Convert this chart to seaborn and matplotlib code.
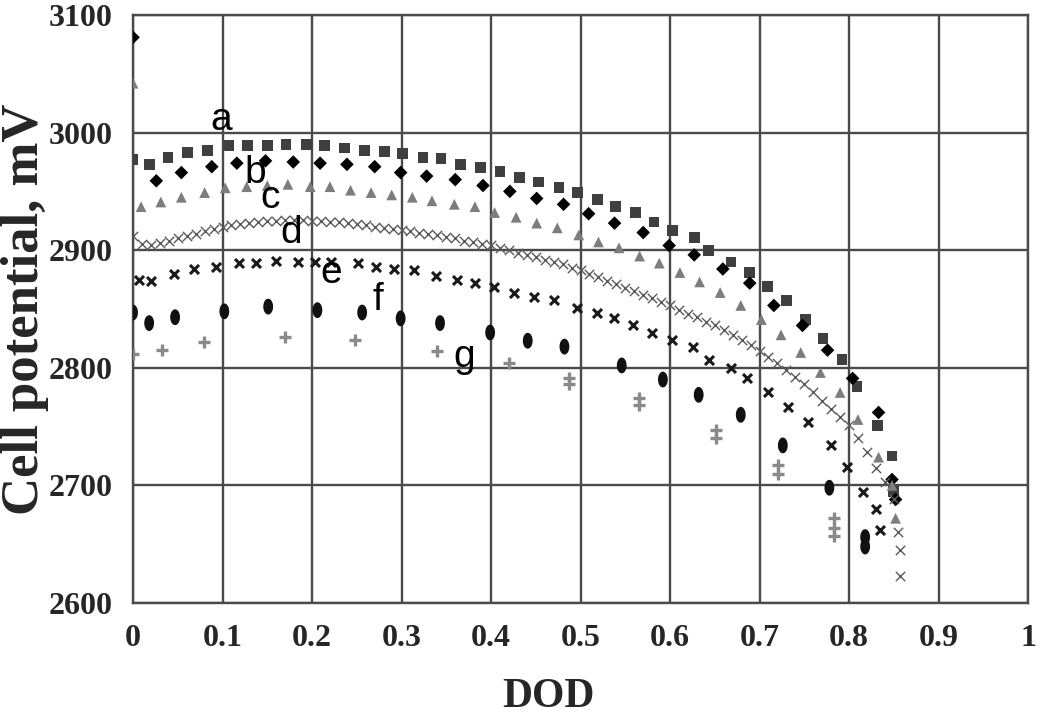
import numpy as np
import pandas as pd
import matplotlib
matplotlib.use("Agg")
import matplotlib.pyplot as plt
from matplotlib.path import Path
import seaborn as sns

# ---------------- data ----------------
a_x = [0, 0.018, 0.039, 0.061, 0.083, 0.107, 0.128, 0.150, 0.171, 0.194, 0.214, 0.236, 0.259, 0.281,
       0.301, 0.324, 0.344, 0.366, 0.388, 0.410, 0.432, 0.453, 0.476, 0.497, 0.519, 0.539, 0.561,
       0.582, 0.603, 0.627, 0.643, 0.668, 0.689, 0.709, 0.730, 0.751, 0.771, 0.792, 0.809, 0.832,
       0.848, 0.850]
a_y = [2977, 2973, 2979, 2983, 2985, 2989, 2989, 2989, 2990, 2990, 2989, 2987, 2985, 2984,
       2982, 2979, 2978, 2973, 2970, 2967, 2962, 2958, 2953, 2949, 2943, 2937, 2932,
       2924, 2917, 2911, 2900, 2890, 2881, 2869, 2857, 2841, 2825, 2807, 2784, 2751,
       2725, 2695]

b_x = [0, 0.026, 0.054, 0.088, 0.116, 0.148, 0.179, 0.209, 0.239, 0.270, 0.299, 0.328, 0.360,
       0.391, 0.421, 0.451, 0.481, 0.509, 0.538, 0.570, 0.599, 0.627, 0.659, 0.689, 0.716, 0.748,
       0.776, 0.804, 0.833, 0.848, 0.852]
b_y = [3081, 2959, 2966, 2971, 2974, 2976, 2975, 2974, 2973, 2971, 2966, 2963, 2960,
       2955, 2950, 2944, 2939, 2931, 2923, 2915, 2904, 2896, 2884, 2872, 2853, 2836,
       2815, 2791, 2762, 2705, 2688]

c_x = [0, 0.009, 0.031, 0.054, 0.080, 0.103, 0.127, 0.150, 0.173, 0.198, 0.220, 0.243, 0.266,
       0.289, 0.312, 0.334, 0.359, 0.382, 0.404, 0.428, 0.451, 0.474, 0.498, 0.520, 0.543, 0.566,
       0.588, 0.611, 0.633, 0.656, 0.679, 0.702, 0.724, 0.746, 0.768, 0.790, 0.810, 0.833, 0.848,
       0.852]
c_y = [3042, 2937, 2941, 2945, 2949, 2953, 2954, 2955, 2956, 2954, 2954, 2951, 2949,
       2947, 2945, 2942, 2939, 2937, 2932, 2928, 2923, 2919, 2913, 2907, 2902, 2895,
       2889, 2881, 2873, 2864, 2853, 2841, 2828, 2813, 2796, 2779, 2756, 2724, 2700,
       2672]

d_x = [0.00, 0.01, 0.02, 0.03, 0.04, 0.05, 0.06, 0.07, 0.08, 0.09, 0.10, 0.11, 0.12, 0.13, 0.14,
       0.15, 0.16, 0.17, 0.18, 0.19, 0.20, 0.21, 0.22, 0.23, 0.24, 0.25, 0.26, 0.27, 0.28, 0.29,
       0.30, 0.31, 0.32, 0.33, 0.34, 0.35, 0.36, 0.37, 0.38, 0.39, 0.40, 0.41, 0.42, 0.43, 0.44,
       0.45, 0.46, 0.47, 0.48, 0.49, 0.50, 0.51, 0.52, 0.53, 0.54, 0.55, 0.56, 0.57, 0.58, 0.59,
       0.60, 0.61, 0.62, 0.63, 0.64, 0.65, 0.66, 0.67, 0.68, 0.69, 0.70, 0.71, 0.72, 0.73, 0.74,
       0.75, 0.76, 0.77, 0.78, 0.79, 0.80, 0.81, 0.82, 0.83, 0.84, 0.85, 0.855, 0.857, 0.857]
d_y = [2912, 2905, 2904, 2906, 2908, 2910, 2912, 2914, 2916, 2918, 2920, 2921, 2922, 2923, 2924,
       2925, 2925, 2926, 2926, 2926, 2925, 2925, 2924, 2924, 2923, 2922, 2921, 2920, 2919, 2918,
       2917, 2916, 2915, 2914, 2913, 2911, 2910, 2908, 2907, 2905, 2904, 2902, 2900, 2898, 2896,
       2894, 2892, 2890, 2888, 2885, 2883, 2880, 2877, 2874, 2871, 2868, 2865, 2862, 2859, 2856,
       2853, 2849, 2846, 2843, 2839, 2836, 2832, 2828, 2824, 2819, 2814, 2809, 2804, 2798, 2792,
       2786, 2779, 2772, 2765, 2758, 2751, 2740, 2728, 2715, 2703, 2688, 2660, 2645, 2623]

e_x = [0.007, 0.020, 0.046, 0.068, 0.093, 0.118, 0.137, 0.160, 0.184, 0.203, 0.221, 0.251, 0.271,
       0.292, 0.314, 0.338, 0.362, 0.382, 0.403, 0.426, 0.448, 0.470, 0.496, 0.518, 0.537, 0.559,
       0.580, 0.602, 0.626, 0.644, 0.668, 0.686, 0.710, 0.732, 0.754, 0.780, 0.798, 0.816, 0.830,
       0.835]
e_y = [2875, 2874, 2880, 2884, 2886, 2889, 2889, 2891, 2890, 2890, 2890, 2889, 2886,
       2884, 2883, 2878, 2875, 2872, 2869, 2864, 2860, 2858, 2851, 2847, 2842, 2836,
       2830, 2824, 2818, 2807, 2800, 2791, 2779, 2767, 2754, 2734, 2716, 2694, 2680,
       2662]

f_x = [0, 0.018, 0.047, 0.102, 0.151, 0.206, 0.256, 0.299, 0.343, 0.399, 0.441, 0.482, 0.546,
       0.592, 0.632, 0.679, 0.726, 0.778, 0.818, 0.818]
f_y = [2847, 2838, 2843, 2848, 2852, 2849, 2847, 2842, 2838, 2830, 2823, 2818, 2802,
       2790, 2777, 2760, 2734, 2698, 2656, 2648]

g_x = [0, 0.032, 0.079, 0.170, 0.248, 0.340, 0.420, 0.487, 0.487, 0.565, 0.565, 0.651, 0.651,
       0.721, 0.721, 0.783, 0.783, 0.783]
g_y = [2812, 2815, 2822, 2826, 2824, 2814, 2804, 2791, 2786, 2774, 2768, 2747, 2740,
       2717, 2710, 2672, 2664, 2657]

curve_labels = ["a", "b", "c", "d", "e", "f", "g"]
label_x = [0.098, 0.137, 0.153, 0.177, 0.221, 0.273, 0.370]
label_y = [3011, 2966, 2944, 2915, 2881, 2858, 2809]

x_ticks = [0, 0.1, 0.2, 0.3, 0.4, 0.5, 0.6, 0.7, 0.8, 0.9, 1]
x_tick_labels = ["0", "0.1", "0.2", "0.3", "0.4", "0.5", "0.6", "0.7", "0.8", "0.9", "1"]
y_ticks = [2600, 2700, 2800, 2900, 3000, 3100]

# ---------------- styling ----------------
sns.set_theme(style="white")
plt.rcParams["font.family"] = ["Liberation Serif", "DejaVu Serif"]

th = np.linspace(0, 2 * np.pi, 41)
pill = Path(np.column_stack([0.62 * np.cos(th), np.sin(th)]))

series = [
    (a_x, a_y, "s", "#3f3f3f", 60, 0.0),
    (b_x, b_y, "D", "#000000", 48, 0.0),
    (c_x, c_y, "^", "#7d7d7d", 60, 0.0),
    (d_x, d_y, "x", "#5a5a5a", 45, 1.0),
    (e_x, e_y, "x", "#1a1a1a", 42, 2.2),
    (f_x, f_y, pill, "#111111", 130, 0.0),
    (g_x, g_y, "+", "#8a8a8a", 70, 2.4),
]

fig = plt.figure(figsize=(10.5, 7.21), dpi=100)
ax = fig.add_axes([0.1267, 0.1637, 0.8524, 0.8155])

for xs, ys, mk, col, size, lw in series:
    df = pd.DataFrame({"DOD": xs, "E": ys})
    sns.scatterplot(data=df, x="DOD", y="E", ax=ax, marker=mk, s=size, color=col,
                    linewidth=lw, edgecolor=col if lw > 0 else "none", legend=False, zorder=3)

for t, lx, ly in zip(curve_labels, label_x, label_y):
    ax.text(lx, ly, t, ha="center", va="center", fontsize=28, family="Liberation Sans",
            color="black", zorder=4)

ax.set_xlim(0, 1)
ax.set_ylim(2600, 3100)
ax.set_xticks(x_ticks)
ax.set_xticklabels(x_tick_labels)
ax.set_yticks(y_ticks)
ax.grid(True, color="#4a4a4a", linewidth=1.7)
ax.set_axisbelow(True)
for sp in ax.spines.values():
    sp.set_color("#4a4a4a")
    sp.set_linewidth(1.7)
ax.tick_params(direction="out", length=7, width=1.5, color="#4a4a4a", labelsize=23, pad=8)
for lab in ax.get_xticklabels() + ax.get_yticklabels():
    lab.set_fontweight("bold")

ax.set_xlabel("DOD", fontsize=30, fontweight="bold")
ax.xaxis.set_label_coords(0.4637, -0.128, transform=ax.transAxes)
ax.xaxis.label.set_va("top")
ax.set_ylabel("Cell potential, mV", fontsize=38, fontweight="bold")
ax.yaxis.set_label_coords(-0.1207, 0.50, transform=ax.transAxes)
ax.yaxis.label.set_va("center")

fig.savefig("out.png", dpi=100)
